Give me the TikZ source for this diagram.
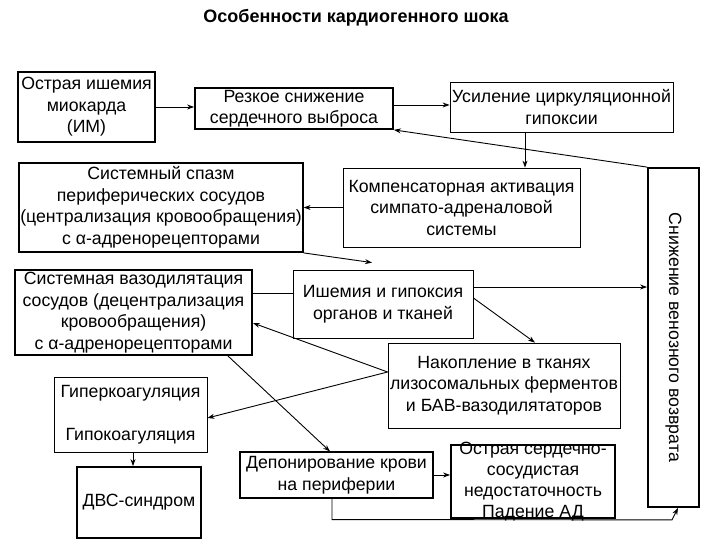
\documentclass[tikz,border=0pt]{standalone}
\usepackage{fontspec}
\setmainfont{Liberation Sans}
\usetikzlibrary{arrows.meta}
\tikzset{
  box/.style={draw, line width=0.8pt, align=center, inner sep=1pt, font=\fontsize{17.7}{21.5}\selectfont},
  tbox/.style={box, line width=1.8pt},
  arr/.style={-{Stealth[length=7pt,width=5pt]}, line width=0.9pt},
  ln/.style={line width=0.9pt}
}
\begin{document}
\begin{tikzpicture}[x=1pt,y=-1pt]
\useasboundingbox (0,0) rectangle (720,540);
\node[font=\bfseries\fontsize{18}{22}\selectfont] (title) at (356,18) {Особенности кардиогенного шока};

\node[box, line width=1.1pt, minimum width=137pt, minimum height=70pt] (A) at (86.5,107) {Острая ишемия\\миокарда\\(ИМ)};
\node[tbox, minimum width=198pt, minimum height=41pt] (B) at (294,108.5) {Резкое снижение\\сердечного выброса};
\node[box, minimum width=223pt, minimum height=50pt] (C) at (561.5,107) {Усиление циркуляционной\\гипоксии};
\node[box, minimum width=237pt, minimum height=79pt] (D) at (461.5,207.5) {Компенсаторная активация\\симпато-адреналовой\\системы};
\node[tbox, minimum width=51pt, minimum height=339pt] (E) at (673.5,337.5) {\rotatebox{-90}{Снижение венозного возврата}};
\node[tbox, minimum width=282pt, minimum height=89pt] (F) at (161,207.5) {Системный спазм\\периферических сосудов\\(централизация кровообращения)\\с α-адренорецепторами};
\node[box, minimum width=180pt, minimum height=68pt] (G) at (383,304) {Ишемия и гипоксия\\органов и тканей};
\node[tbox, minimum width=237pt, minimum height=85pt] (H) at (133.5,312.5) {Системная вазодилятация\\сосудов (децентрализация\\кровообращения)\\с α-адренорецепторами};
\node[box, minimum width=232pt, minimum height=85pt] (I) at (504,385.5) {Накопление в тканях\\лизосомальных ферментов\\и БАВ-вазодилятаторов};
\node[box, minimum width=153pt, minimum height=75pt] (J) at (130.5,414.5) {Гиперкоагуляция\\\mbox{}\\Гипокоагуляция};
\node[tbox, minimum width=124pt, minimum height=71pt] (K) at (139,502.5) {ДВС-синдром};
\node[box, line width=1.1pt, minimum width=193pt, minimum height=46pt] (L) at (336.5,475) {Депонирование крови\\на периферии};
\node[tbox, minimum width=164pt, minimum height=73pt] (M) at (533,481.5) {};
\node[align=center, font=\fontsize{17.7}{21.2}\selectfont, inner sep=0pt] (Mt) at (M.center) {Острая сердечно-\\сосудистая\\недостаточность\\Падение АД};

\draw[arr] (A.east) -- (A.east -| B.west);
\draw[arr] ([yshift=3.5pt]B.east) -- ([yshift=3.5pt]B.east -| C.west);
\draw[arr] ([xshift=-36.5pt]C.south) -- ([xshift=-36.5pt]C.south |- D.north);
\draw[arr] (E.north west) -- (B.south east);
\draw[arr] (D.west) -- (D.west -| F.east);
\draw[arr] (F.south east) -- ([shift={(-11pt,7pt)}]G.north);
\draw[ln] ([yshift=11pt]G.west) -- ([yshift=11pt]G.west -| H.east);
\draw[arr] ([yshift=17pt]G.east) -- ([yshift=17pt]G.east -| E.west);
\draw[arr] ([yshift=6pt]G.east) -- ([xshift=31pt]I.north);
\draw[arr] ([yshift=13.5pt]I.west) -- ([yshift=-10.5pt]H.east);
\draw[arr] ([yshift=13.5pt]I.west) -- ([yshift=-3.5pt]J.east);
\draw[arr] ([xshift=-25pt]H.south east) -- ([xshift=-6.5pt]L.north);
\draw[arr] ([xshift=2.5pt]J.south) -- ([xshift=2.5pt]J.south |- K.north);
\draw[arr] (L.east) -- (L.east -| M.west);
\draw[arr] ([xshift=-4.5pt]L.south) -- ++(0,21) -- ([xshift=-1.5pt,yshift=-12pt]E.south) -- ([xshift=4.5pt]E.south);
\end{tikzpicture}
\end{document}
